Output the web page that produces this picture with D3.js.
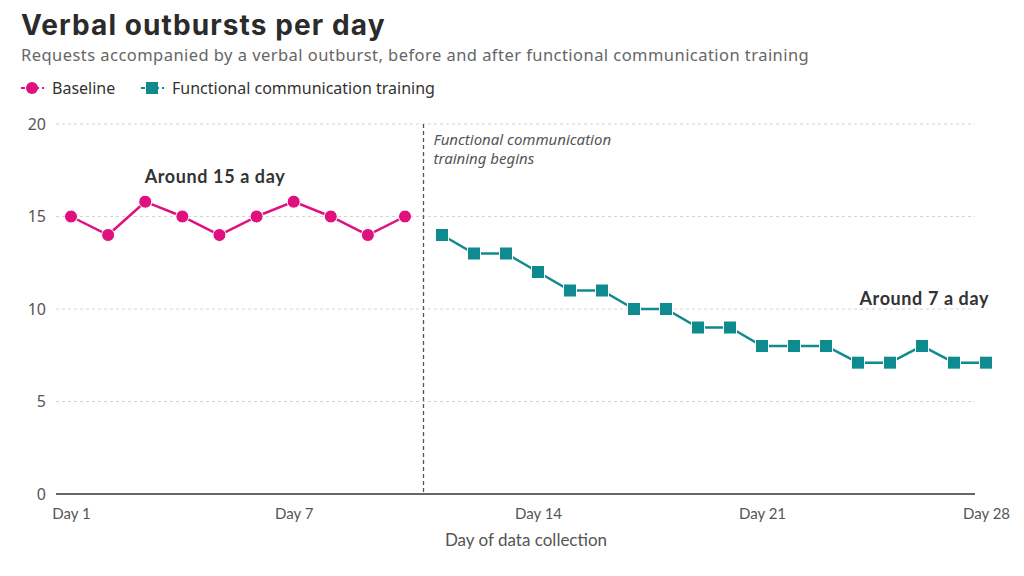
<!DOCTYPE html>
<html>
<head>
<meta charset="utf-8">
<script src="https://cdn.jsdelivr.net/npm/d3@7"></script>
<style>
  body { margin: 0; background: #fff; }
  svg { display: block; font-family: "Noto Sans", sans-serif; }
</style>
</head>
<body>
<div id="chart-area"></div>
<script>
const baselineDays = [1, 2, 3, 4, 5, 6, 7, 8, 9, 10];
const baselineValues = [15, 14, 15.8, 15, 14, 15, 15.8, 15, 14, 15];
const trainingDays = [11, 12, 13, 14, 15, 16, 17, 18, 19, 20, 21, 22, 23, 24, 25, 26, 27, 28];
const trainingValues = [14, 13, 13, 12, 11, 11, 10, 10, 9, 9, 8, 8, 8, 7.1, 7.1, 8, 7.1, 7.1];
const dayTicks = [1, 7, 14, 21, 28];
const valueTicks = [0, 5, 10, 15, 20];

const width = 1024;
const height = 576;
const pink = "#e0107f";
const teal = "#0f8a8e";

const svg = d3.select("#chart-area")
              .append("svg")
              .attr("width", width)
              .attr("height", height);

// baseline days are spaced wider than the training days in the original
const x = d3.scaleLinear()
            .domain([1, 10, 11, 28])
            .range([71, 405, 442, 986]);

const y = d3.scaleLinear()
            .domain([0, 20])
            .range([494, 124]);

const plotLeft = 56;
const plotRight = 975;

// title + subtitle
svg.append("text")
   .attr("x", 21)
   .attr("y", 35)
   .attr("font-family", "Inter, 'Noto Sans', sans-serif")
   .attr("font-size", 28)
   .attr("font-weight", 700)
   .attr("letter-spacing", 1.1)
   .attr("fill", "#2b2b2b")
   .text("Verbal outbursts per day");

svg.append("text")
   .attr("x", 21)
   .attr("y", 61)
   .attr("font-size", 16.5)
   .attr("letter-spacing", 0.45)
   .attr("fill", "#666")
   .text("Requests accompanied by a verbal outburst, before and after functional communication training");

// legend
const legend = svg.append("g").attr("transform", "translate(0, 88)");
legend.append("line").attr("x1", 21).attr("x2", 44).attr("stroke", pink).attr("stroke-width", 2).attr("stroke-dasharray", "4,3");
legend.append("circle").attr("cx", 32).attr("r", 6).attr("fill", pink);
legend.append("text").attr("x", 52).attr("y", 6).attr("font-size", 16).attr("fill", "#333").text("Baseline");
legend.append("line").attr("x1", 141).attr("x2", 164).attr("stroke", teal).attr("stroke-width", 2).attr("stroke-dasharray", "4,3");
legend.append("rect").attr("x", 146).attr("y", -6).attr("width", 12).attr("height", 12).attr("fill", teal);
legend.append("text").attr("x", 172).attr("y", 6).attr("font-size", 16).attr("fill", "#333").text("Functional communication training");

// gridlines
svg.append("g")
   .selectAll("line")
   .data(valueTicks.filter(d => d > 0))
   .enter()
   .append("line")
   .attr("x1", plotLeft)
   .attr("x2", plotRight)
   .attr("y1", d => y(d))
   .attr("y2", d => y(d))
   .attr("stroke", "#d4d4d4")
   .attr("stroke-dasharray", "3,3");

// y axis labels
const axisY = d3.axisLeft(y).tickValues(valueTicks).tickSize(0).tickPadding(10);
svg.append("g")
   .attr("transform", "translate(" + plotLeft + ", 0)")
   .call(axisY)
   .call(g => g.select(".domain").remove())
   .call(g => g.selectAll("text")
               .attr("font-family", "'Noto Sans', sans-serif")
               .attr("font-size", 16)
               .attr("fill", "#555"));

// x axis
const axisX = d3.axisBottom(x)
                .tickValues(dayTicks)
                .tickSize(0)
                .tickPadding(14)
                .tickFormat(d => "Day " + d);
svg.append("g")
   .attr("transform", "translate(0, " + y(0) + ")")
   .call(axisX)
   .call(g => g.select(".domain").remove())
   .call(g => g.selectAll("text")
               .attr("font-family", "Lato, sans-serif")
               .attr("font-size", 15)
               .attr("fill", "#555"));

svg.append("line")
   .attr("x1", plotLeft)
   .attr("x2", plotRight)
   .attr("y1", y(0))
   .attr("y2", y(0))
   .attr("stroke", "#666")
   .attr("stroke-width", 2);

svg.append("text")
   .attr("x", 526)
   .attr("y", 546)
   .attr("text-anchor", "middle")
   .attr("font-family", "Lato, sans-serif")
   .attr("font-size", 17)
   .attr("fill", "#555")
   .text("Day of data collection");

// phase change line
svg.append("line")
   .attr("x1", x(10.5))
   .attr("x2", x(10.5))
   .attr("y1", y(20))
   .attr("y2", y(0))
   .attr("stroke", "#555")
   .attr("stroke-width", 1.3)
   .attr("stroke-dasharray", "4,3");

svg.append("text")
   .attr("x", x(10.5) + 10)
   .attr("y", 145)
   .attr("font-size", 15)
   .attr("font-style", "italic")
   .attr("fill", "#555")
   .selectAll("tspan")
   .data(["Functional communication", "training begins"])
   .enter()
   .append("tspan")
   .attr("x", x(10.5) + 10)
   .attr("dy", (d, i) => i ? 19 : 0)
   .text(d => d);

// lines
const lineGen = d3.line().x(d => x(d[0])).y(d => y(d[1]));
const baseData = d3.zip(baselineDays, baselineValues);
const trainData = d3.zip(trainingDays, trainingValues);

svg.append("path")
   .datum(baseData)
   .attr("d", lineGen)
   .attr("fill", "none")
   .attr("stroke", pink)
   .attr("stroke-width", 2.5);

svg.append("g")
   .selectAll("circle")
   .data(baseData)
   .enter()
   .append("circle")
   .attr("cx", d => x(d[0]))
   .attr("cy", d => y(d[1]))
   .attr("r", 6.5)
   .attr("fill", pink)
   .attr("stroke", "#fff")
   .attr("stroke-width", 1);

svg.append("path")
   .datum(trainData)
   .attr("d", lineGen)
   .attr("fill", "none")
   .attr("stroke", teal)
   .attr("stroke-width", 2.5);

svg.append("g")
   .selectAll("rect")
   .data(trainData)
   .enter()
   .append("rect")
   .attr("x", d => x(d[0]) - 6.5)
   .attr("y", d => y(d[1]) - 6.5)
   .attr("width", 13)
   .attr("height", 13)
   .attr("fill", teal)
   .attr("stroke", "#fff")
   .attr("stroke-width", 1);

// annotations
svg.append("text")
   .attr("x", 215)
   .attr("y", 183)
   .attr("text-anchor", "middle")
   .attr("font-family", "Lato, sans-serif")
   .attr("font-size", 18)
   .attr("font-weight", 700)
   .attr("letter-spacing", 0.6)
   .attr("fill", "#333")
   .text("Around 15 a day");

svg.append("text")
   .attr("x", 989)
   .attr("y", 305)
   .attr("text-anchor", "end")
   .attr("font-family", "Lato, sans-serif")
   .attr("font-size", 18)
   .attr("font-weight", 700)
   .attr("letter-spacing", 0.6)
   .attr("fill", "#333")
   .text("Around 7 a day");
</script>
</body>
</html>
